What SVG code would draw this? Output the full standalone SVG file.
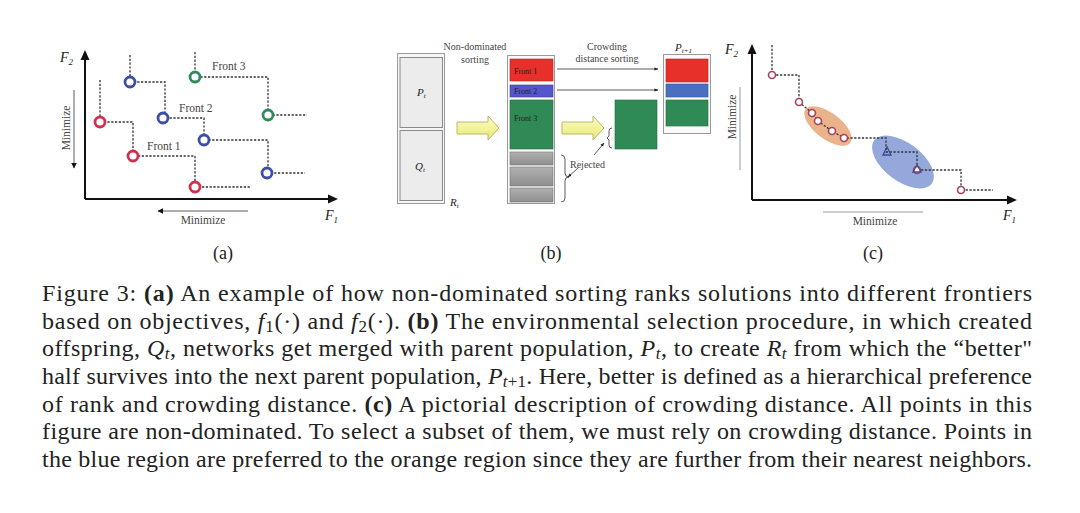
<svg xmlns="http://www.w3.org/2000/svg" width="1080" height="513" viewBox="0 0 1080 513">
<style>
text{font-family:"Liberation Serif","DejaVu Serif",serif;fill:#222}
.ax{stroke:#111;stroke-width:2;fill:none}
.dash{stroke:#333;stroke-width:1.3;stroke-dasharray:2.2 1.6;fill:none}
.lab{font-size:11.5px;fill:#444}
.sm{font-size:10px;fill:#444}
.it{font-style:italic}
.cap{font-size:24px;fill:#111}
.b{font-weight:bold}
.ra{fill:#fff;stroke:#d3304e;stroke-width:2.8}
.ba{fill:#fff;stroke:#3d4fa3;stroke-width:2.8}
.ga{fill:#fff;stroke:#2f8a5c;stroke-width:2.8}
.rc{fill:#fff;stroke:#a8405a;stroke-width:1.6}
.tc{fill:none;stroke:#3a4a90;stroke-width:1.3}
.thin{stroke:#333;stroke-width:0.8;fill:none}
.yel{fill:url(#yg);stroke:#b9b96a;stroke-width:1}
</style>
<defs>
<marker id="ah" viewBox="0 0 10 10" refX="9" refY="5" markerWidth="7" markerHeight="7" orient="auto"><path d="M0,0 L10,5 L0,10 z" fill="#111"/></marker>
<marker id="sa" viewBox="0 0 10 10" refX="9" refY="5" markerWidth="5" markerHeight="5" orient="auto"><path d="M0,1 L10,5 L0,9 z" fill="#222"/></marker>
<linearGradient id="yg" x1="0" y1="0" x2="0" y2="1"><stop offset="0" stop-color="#fbfbd0"/><stop offset="0.5" stop-color="#f3f39a"/><stop offset="1" stop-color="#e6e67e"/></linearGradient>
<linearGradient id="gg" x1="0" y1="0" x2="0" y2="1"><stop offset="0" stop-color="#b0b0b0"/><stop offset="1" stop-color="#8e8e8e"/></linearGradient>
</defs>

<!-- Panel (a) -->
<g id="panel-a">
<path class="ax" d="M85,199 V58"/><path d="M85,50 L80.5,60 L89.5,60 z" fill="#111"/>
<path class="ax" d="M85,199 H330"/><path d="M338,199 L328,194.5 L328,203.5 z" fill="#111"/>
<text x="60" y="62" font-size="14" class="it">F<tspan font-size="9" dy="3">2</tspan></text>
<text x="325" y="220" font-size="14" class="it">F<tspan font-size="9" dy="3">1</tspan></text>
<path class="thin" d="M248,211 H158" stroke-width="1" marker-end="url(#ah)"/>
<text x="203" y="224" class="lab" text-anchor="middle">Minimize</text>
<path class="thin" d="M74,90 V168" stroke-width="1" marker-end="url(#ah)"/>
<text transform="translate(70,128) rotate(-90)" class="lab" text-anchor="middle">Minimize</text>
<g id="front1-a">
<path class="dash" d="M100,80 V122 H133 V156 H195 V187 H250"/>
<circle class="ra" cx="100" cy="122" r="5"/><circle class="ra" cx="133" cy="156" r="5"/><circle class="ra" cx="195" cy="187" r="5"/>
<text x="147" y="150" class="lab">Front 1</text>
</g>
<g id="front2-a">
<path class="dash" d="M130,55 V82 H165 V118 H204 V140 H268 V173 H305"/>
<circle class="ba" cx="130" cy="82" r="5"/><circle class="ba" cx="163" cy="118" r="5"/><circle class="ba" cx="204" cy="140" r="5"/><circle class="ba" cx="267" cy="173" r="5"/>
<text x="179" y="112" class="lab">Front 2</text>
</g>
<g id="front3-a">
<path class="dash" d="M195,52 V77 H268 V115 H307"/>
<circle class="ga" cx="195" cy="77" r="5"/><circle class="ga" cx="268" cy="115" r="5"/>
<text x="212" y="70" class="lab">Front 3</text>
</g>
<text x="223" y="259" font-size="18" text-anchor="middle">(a)</text>
</g>

<!-- Panel (b) -->
<g id="panel-b">
<g id="Rt">
<rect x="397.5" y="53.5" width="47" height="150" fill="#f6f6f6" stroke="#9a9a9a" stroke-width="1"/>
<rect x="400" y="57.5" width="42.5" height="70" fill="#ececec" stroke="#8a8a8a" stroke-width="1"/>
<rect x="400" y="130.5" width="42.5" height="70" fill="#ececec" stroke="#8a8a8a" stroke-width="1"/>
<text x="417" y="96" font-size="11" class="it">P<tspan font-size="7" dy="2">t</tspan></text>
<text x="415" y="170" font-size="11" class="it">Q<tspan font-size="7" dy="2">t</tspan></text>
<text x="450" y="206" font-size="11" class="it">R<tspan font-size="7" dy="2">t</tspan></text>
</g>
<text x="475" y="50" class="sm" text-anchor="middle">Non-dominated</text>
<text x="475" y="63" class="sm" text-anchor="middle">sorting</text>
<path id="yarrow1" class="yel" d="M457,122 H488 V116 L499,128 L488,140 V134 H457 z"/>
<g id="sorted">
<rect x="507.5" y="55.5" width="47" height="148" fill="#fafafa" stroke="#9a9a9a" stroke-width="1"/>
<rect x="510" y="59" width="43" height="22" fill="#e8302a" stroke="#c02020" stroke-width="0.6"/>
<rect x="510" y="85" width="43" height="12" fill="#5656cc" stroke="#3b3ba0" stroke-width="0.6"/>
<rect x="510" y="100" width="43" height="49" fill="#2f8a55" stroke="#226a40" stroke-width="0.6"/>
<rect x="510" y="152" width="43" height="13" fill="url(#gg)" stroke="#777" stroke-width="0.6"/>
<rect x="510" y="167" width="43" height="19" fill="url(#gg)" stroke="#777" stroke-width="0.6"/>
<rect x="510" y="188" width="43" height="14" fill="url(#gg)" stroke="#777" stroke-width="0.6"/>
<text x="514" y="74" font-size="8" fill="#8a1a18">Front 1</text>
<text x="514" y="94" font-size="8" fill="#2a2a90">Front 2</text>
<text x="514" y="121" font-size="8" fill="#1a5a36">Front 3</text>
</g>
<path class="thin" d="M561,155 q4,0 4,4 v14 q0,4 4,4 q-4,0 -4,4 v17 q0,4 -4,4"/>
<text x="607" y="50" class="sm" text-anchor="middle">Crowding</text>
<text x="607" y="62" class="sm" text-anchor="middle">distance sorting</text>
<g id="connectors-b">
<path class="thin" stroke="#888" d="M557,69 H658" marker-end="url(#sa)"/>
<path class="thin" stroke="#888" d="M557,90 H658" marker-end="url(#sa)"/>
<path class="thin" d="M594,155 L604,143" marker-end="url(#sa)"/>
<path class="thin" d="M578,168 L568,177" marker-end="url(#sa)"/>
</g>
<path id="yarrow2" class="yel" d="M562,122 H593 V116 L604,128 L593,140 V134 H562 z"/>
<rect id="front3-split" x="615" y="100" width="42" height="49" fill="#2f8a55" stroke="#226a40" stroke-width="0.6"/>
<path class="thin" d="M612,128 q-3,0 -3,3 v5 l-2,2 l2,2 v5 q0,3 3,3"/>
<text x="570" y="168" class="sm">Rejected</text>
<g id="Pt1">
<rect x="663.5" y="54.5" width="47" height="79" fill="#fafafa" stroke="#9a9a9a" stroke-width="1"/>
<rect x="666" y="59" width="42" height="23" fill="#e8302a" stroke="#c02020" stroke-width="0.6"/>
<rect x="666" y="84" width="42" height="13" fill="#4a6fc0" stroke="#34509a" stroke-width="0.6"/>
<rect x="666" y="100" width="42" height="26" fill="#2f8a55" stroke="#226a40" stroke-width="0.6"/>
<text x="675" y="51" font-size="11" class="it">P<tspan font-size="7" dy="2">t+1</tspan></text>
</g>
<text x="551" y="259" font-size="18" text-anchor="middle">(b)</text>
</g>

<!-- Panel (c) -->
<g id="panel-c">
<ellipse cx="828" cy="126" rx="28" ry="13" transform="rotate(37 828 126)" fill="#e49a66" fill-opacity="0.75"/>
<ellipse cx="903" cy="162" rx="36" ry="19" transform="rotate(37 903 162)" fill="#7a92d2" fill-opacity="0.8"/>
<path class="ax" d="M752,200 V52"/><path d="M752,44 L747.5,54 L756.5,54 z" fill="#111"/>
<path class="ax" d="M752,200 H1009"/><path d="M1017,200 L1007,195.5 L1007,204.5 z" fill="#111"/>
<text x="725" y="54" font-size="14" class="it">F<tspan font-size="9" dy="3">2</tspan></text>
<text x="1003" y="220" font-size="14" class="it">F<tspan font-size="9" dy="3">1</tspan></text>
<path d="M823,212 H923" stroke="#999" stroke-width="1"/>
<text x="875" y="225" class="lab" text-anchor="middle">Minimize</text>
<path d="M740,87 V170" stroke="#999" stroke-width="1"/>
<text transform="translate(736,117) rotate(-90)" class="lab" text-anchor="middle">Minimize</text>
<path class="dash" stroke-width="1.1" d="M772,45 V75 H799 V102 M799,102 L812,113 L818,121 L832,131 L844,138 H886 V152 H917 V170 H961 V190 H993"/>
<circle class="rc" cx="772" cy="75" r="3.5"/>
<circle class="rc" cx="799" cy="102" r="3.5"/>
<circle class="rc" cx="812" cy="113" r="3.5"/>
<circle class="rc" cx="818" cy="121" r="3.5"/>
<circle class="rc" cx="832" cy="131" r="3.5"/>
<circle class="rc" cx="844" cy="138" r="3.5"/>
<path class="tc" d="M887,147 L883,155 L891,155 z"/>
<circle class="rc" cx="917" cy="170" r="3.5"/><path class="tc" d="M917,165 L913,172 L921,172 z"/>
<circle class="rc" cx="961" cy="190" r="3.5"/>
<text x="873" y="259" font-size="18" text-anchor="middle">(c)</text>
</g>

<!-- Caption -->
<g id="caption" class="cap">
<text x="42" y="301" textLength="990" lengthAdjust="spacing">Figure 3: <tspan class="b">(a)</tspan> An example of how non-dominated sorting ranks solutions into different frontiers</text>
<text x="42" y="328.7" textLength="990" lengthAdjust="spacing">based on objectives, <tspan class="it">f</tspan><tspan font-size="17" dy="3">1</tspan><tspan dy="-3">(·) and </tspan><tspan class="it">f</tspan><tspan font-size="17" dy="3">2</tspan><tspan dy="-3">(·). </tspan><tspan class="b">(b)</tspan> The environmental selection procedure, in which created</text>
<text x="42" y="356.3" textLength="990" lengthAdjust="spacing">offspring, <tspan class="it">Q</tspan><tspan class="it" font-size="17" dy="3">t</tspan><tspan dy="-3">, networks get merged with parent population, </tspan><tspan class="it">P</tspan><tspan class="it" font-size="17" dy="3">t</tspan><tspan dy="-3">, to create </tspan><tspan class="it">R</tspan><tspan class="it" font-size="17" dy="3">t</tspan><tspan dy="-3"> from which the “better"</tspan></text>
<text x="42" y="384" textLength="990" lengthAdjust="spacing">half survives into the next parent population, <tspan class="it">P</tspan><tspan class="it" font-size="17" dy="3">t</tspan><tspan font-size="17">+1</tspan><tspan dy="-3">. Here, better is defined as a hierarchical preference</tspan></text>
<text x="42" y="411.7" textLength="990" lengthAdjust="spacing">of rank and crowding distance. <tspan class="b">(c)</tspan> A pictorial description of crowding distance. All points in this</text>
<text x="42" y="439.3" textLength="990" lengthAdjust="spacing">figure are non-dominated. To select a subset of them, we must rely on crowding distance. Points in</text>
<text x="42" y="467" textLength="990" lengthAdjust="spacing">the blue region are preferred to the orange region since they are further from their nearest neighbors.</text>
</g>
</svg>
